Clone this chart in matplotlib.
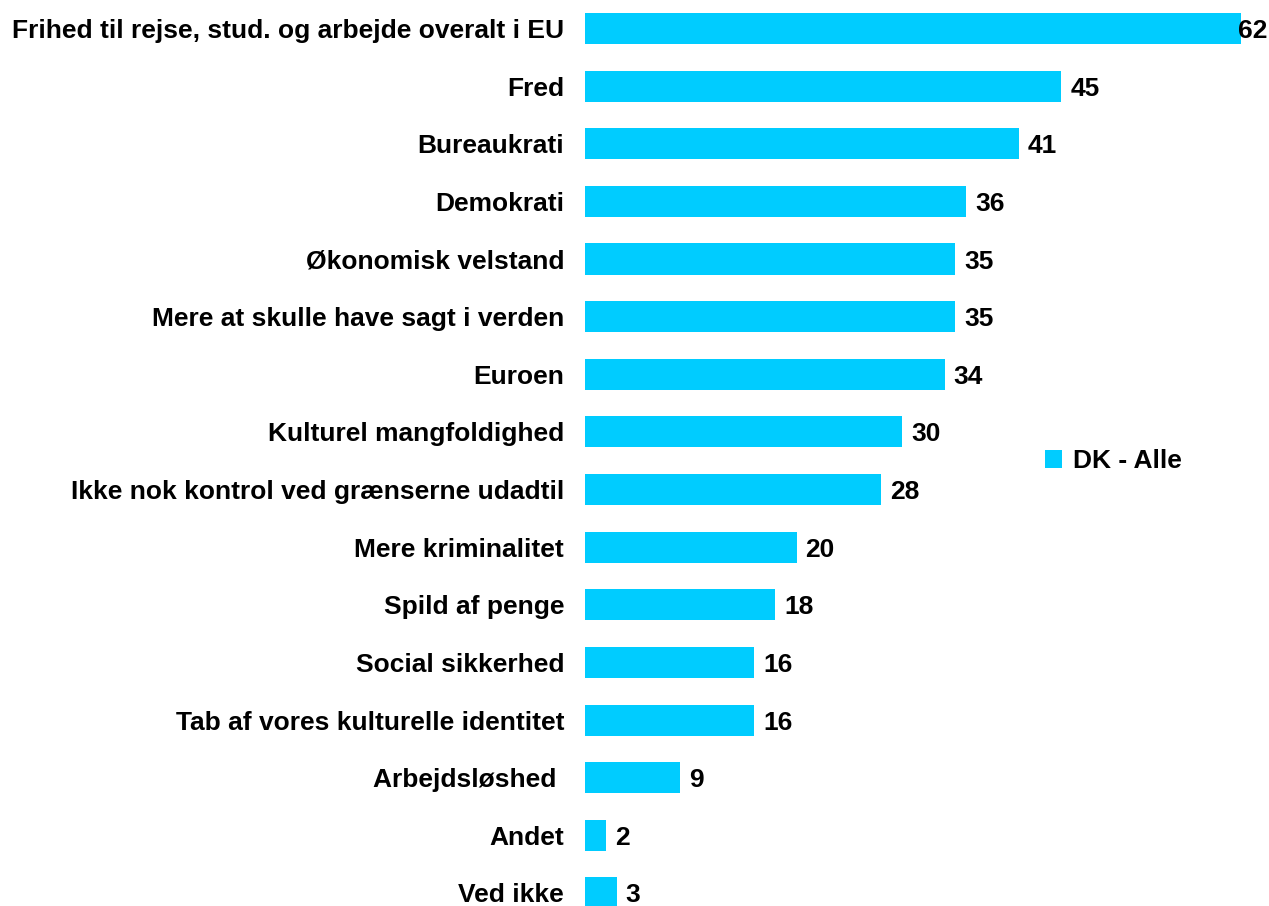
"""Horizontal bar chart: DK - Alle."""

import matplotlib.pyplot as plt

BAR_COLOR = "#00CCFF"
FONT = "Liberation Sans"

categories = [
    "Frihed til rejse, stud. og arbejde overalt i EU",
    "Fred",
    "Bureaukrati",
    "Demokrati",
    "Økonomisk velstand",
    "Mere at skulle have sagt i verden",
    "Euroen",
    "Kulturel mangfoldighed",
    "Ikke nok kontrol ved grænserne udadtil",
    "Mere kriminalitet",
    "Spild af penge",
    "Social sikkerhed",
    "Tab af vores kulturelle identitet",
    "Arbejdsløshed ",
    "Andet",
    "Ved ikke",
]
values = [62, 45, 41, 36, 35, 35, 34, 30, 28, 20, 18, 16, 16, 9, 2, 3]
series_name = "DK - Alle"

plt.rcParams["font.family"] = [FONT, "DejaVu Sans"]

W, H = 1269, 906
FS = 19
fig = plt.figure(figsize=(W / 100, H / 100), dpi=100)
ax = fig.add_axes([585 / W, 0, 1 - 585 / W, 1])

px_per_unit = (1241 - 585) / 62
ax.set_xlim(0, (W - 585) / px_per_unit)
step = (893 - 28.5) / 15
ax.set_ylim(15 + (H - 893) / step, -28.5 / step)

ypos = list(range(len(categories)))
ax.barh(ypos, values, height=0.54, color=BAR_COLOR, label=series_name)

# value labels; the largest one is pushed back against the right edge
pad = 9 / px_per_unit
max_x = (1238 - 585) / px_per_unit
for y, v in zip(ypos, values):
    ax.text(min(v + pad, max_x), y, str(v), va="center_baseline", ha="left",
            fontsize=FS, fontweight="bold", color="black")

ax.set_yticks(ypos)
ax.set_yticklabels(categories, fontsize=FS, fontweight="bold")
ax.tick_params(axis="y", length=0, pad=15)
ax.set_xticks([])
for spine in ax.spines.values():
    spine.set_visible(False)

fig.legend(loc="center left", bbox_to_anchor=(1045 / W, 1 - 461 / H),
           frameon=False, handlelength=0.65, handleheight=0.65,
           handletextpad=0.4, borderpad=0, borderaxespad=0,
           prop={"family": FONT, "weight": "bold", "size": FS})

fig.savefig("out.png", dpi=100)
